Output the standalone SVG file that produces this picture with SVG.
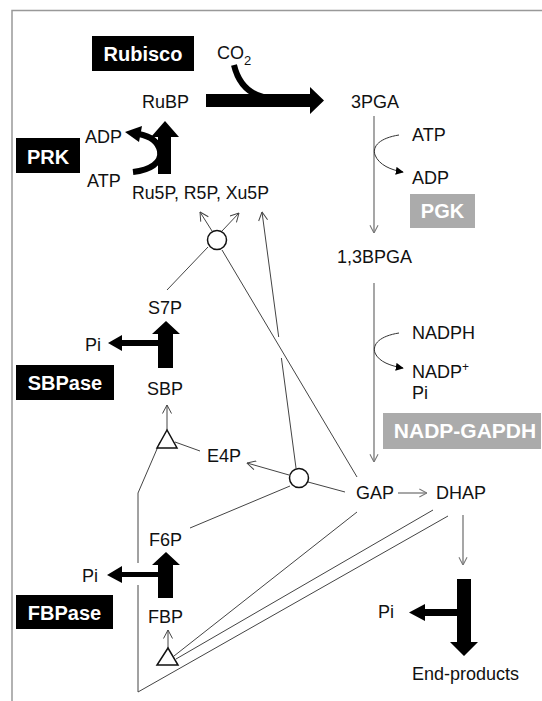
<svg xmlns="http://www.w3.org/2000/svg" width="542" height="701" viewBox="0 0 542 701">
<style>
text{font-family:"Liberation Sans",Arial,sans-serif;font-size:18px;fill:#111}
.box{font-weight:bold;font-size:20px;fill:#fff;text-anchor:middle}
.blk{fill:#000}
.gry{fill:#ababab}
.ln{fill:none;stroke:#444;stroke-width:1}
.gl{fill:none;stroke:#777;stroke-width:1.3}
.thick{fill:none;stroke:#000;stroke-width:6}
.node{fill:#fff;stroke:#111;stroke-width:1.5}
</style>
<defs>
<marker id="chev" viewBox="0 0 10 10" refX="9.5" refY="5" markerWidth="10" markerHeight="10" orient="auto" markerUnits="userSpaceOnUse">
<path d="M1,0.5 L9.5,5 L1,9.5" fill="none" stroke="#444" stroke-width="1"/>
</marker>
<marker id="chevg" viewBox="0 0 10 10" refX="9.5" refY="5" markerWidth="9" markerHeight="10" orient="auto" markerUnits="userSpaceOnUse">
<path d="M1,0.5 L9.5,5 L1,9.5" fill="none" stroke="#777" stroke-width="1.2"/>
</marker>
<marker id="tri" viewBox="0 0 10 10" refX="9" refY="5" markerWidth="8" markerHeight="8" orient="auto" markerUnits="userSpaceOnUse">
<path d="M0,0 L10,5 L0,10 Z" fill="#000"/>
</marker>
</defs>
<path d="M12,701 V10.5 H542" fill="none" stroke="#999" stroke-width="1.5"/>

<g id="connectors">
<path class="gl" d="M374,116 V233" marker-end="url(#chevg)"/>
<path d="M399,135 C380,138 372,146 375,155 C379,165 391,170 403,172" fill="none" stroke="#333" stroke-width="1" marker-end="url(#tri)"/>
<path class="gl" d="M374,283 V462" marker-end="url(#chevg)"/>
<path d="M399,333 C380,336 372,344 375,353 C379,362 391,366 403,368" fill="none" stroke="#333" stroke-width="1" marker-end="url(#tri)"/>
<path class="gl" d="M398,493 H427" marker-end="url(#chevg)"/>
<path class="gl" d="M463,515 V565" marker-end="url(#chevg)"/>
<path class="ln" d="M212,231 L200,212" marker-end="url(#chev)"/>
<path class="ln" d="M222,231 L239,213" marker-end="url(#chev)"/>
<path class="ln" d="M208,247 L167,290"/>
<path class="ln" d="M222,250 L357,477"/>
<path class="ln" d="M296,468 L281.4,358"/>
<path class="ln" d="M278.7,337 L262,212" marker-end="url(#chev)"/>
<path class="ln" d="M289,475 L247,463" marker-end="url(#chev)"/>
<path class="ln" d="M308,482 L345,492"/>
<path class="ln" d="M290,486 L190,528"/>
<path class="ln" d="M167,430 V405" marker-end="url(#chev)"/>
<path class="ln" d="M175,442 L200,451"/>
<path class="ln" d="M160,442 L138,493 V563"/>
<path class="ln" d="M138,585 V692 L448,516"/>
<path class="ln" d="M168,648 V630" marker-end="url(#chev)"/>
<path class="ln" d="M174,656 L357,512"/>
<path class="ln" d="M176,659 L433,510"/>
</g>

<g id="rubisco-arrow">
<path class="thick" d="M234,65 C238,82 248,93 263,97"/>
<polygon class="blk" points="206,94 310,94 310,87 324,100.5 310,114 310,107 206,107"/>
</g>
<g id="prk-arrow">
<polygon class="blk" points="158,174 171,174 171,137 179,137 165,121 151,137 158,137"/>
<path class="thick" d="M133,172 C150,170 162,163 160,151 C158,141 149,136 139,134"/>
<polygon class="blk" points="125,132 142,126 139,142"/>
</g>
<g id="sbpase-arrow">
<polygon class="blk" points="158,368 173,368 173,334 180,334 166,321 152,334 158,334 158,346 122,346 122,351 108,343 122,335 122,340 158,340"/>
</g>
<g id="fbpase-arrow">
<polygon class="blk" points="158,598 173,598 173,565 180,565 166,552 152,565 158,565 158,577 122,577 122,583 107,575 122,566 122,572 158,572"/>
</g>
<g id="end-arrow">
<polygon class="blk" points="457,579 471,579 471,642 478,642 464,656 450,642 457,642 457,616 425,616 425,621 409,612.5 425,604 425,609 457,609"/>
</g>

<g id="circle-upper"><circle class="node" cx="217" cy="240" r="9.5"/></g>
<g id="circle-lower"><circle class="node" cx="299" cy="478" r="9.5"/></g>
<g id="tri-sbp"><polygon class="node" points="167,430 157,448 177,448"/></g>
<g id="tri-fbp"><polygon class="node" points="168,648 157,665 178,665"/></g>

<g id="Rubisco"><rect class="blk" x="92" y="36" width="102" height="35"/><text class="box" x="143" y="61">Rubisco</text></g>
<g id="PRK"><rect class="blk" x="16" y="138" width="64" height="35"/><text class="box" x="48" y="164">PRK</text></g>
<g id="SBPase"><rect class="blk" x="16" y="365" width="98" height="35"/><text class="box" x="65" y="390">SBPase</text></g>
<g id="FBPase"><rect class="blk" x="16" y="595" width="97" height="34"/><text class="box" x="64.5" y="620">FBPase</text></g>
<g id="PGK"><rect class="gry" x="410" y="194" width="65" height="34"/><text class="box" x="442.5" y="218">PGK</text></g>
<g id="NADP-GAPDH"><rect class="gry" x="383" y="413" width="158" height="36"/><text class="box" x="465" y="438" style="font-size:21px">NADP-GAPDH</text></g>

<g id="CO2"><text x="217" y="59">CO<tspan dy="6" font-size="13">2</tspan></text></g>
<g id="RuBP"><text x="142" y="108">RuBP</text></g>
<g id="3PGA"><text x="351" y="108">3PGA</text></g>
<g id="ADP1"><text x="85" y="143">ADP</text></g>
<g id="ATP1"><text x="87" y="187">ATP</text></g>
<g id="Ru5P"><text x="132" y="199" textLength="137" lengthAdjust="spacingAndGlyphs">Ru5P, R5P, Xu5P</text></g>
<g id="ATP2"><text x="412" y="141">ATP</text></g>
<g id="ADP2"><text x="412" y="184">ADP</text></g>
<g id="BPGA"><text x="337" y="263">1,3BPGA</text></g>
<g id="NADPH"><text x="412" y="339">NADPH</text></g>
<g id="NADP"><text x="412" y="378">NADP<tspan dy="-7" font-size="12">+</tspan></text></g>
<g id="Pi-gapdh"><text x="412" y="399">Pi</text></g>
<g id="S7P"><text x="148" y="314">S7P</text></g>
<g id="Pi-sbp"><text x="85" y="351">Pi</text></g>
<g id="SBP"><text x="147" y="395">SBP</text></g>
<g id="E4P"><text x="207" y="462">E4P</text></g>
<g id="GAP"><text x="356" y="499">GAP</text></g>
<g id="DHAP"><text x="436" y="499">DHAP</text></g>
<g id="F6P"><text x="149" y="546">F6P</text></g>
<g id="Pi-fbp"><text x="82" y="582">Pi</text></g>
<g id="FBP"><text x="148" y="623">FBP</text></g>
<g id="Pi-end"><text x="378" y="618">Pi</text></g>
<g id="End-products"><text x="412" y="680">End-products</text></g>
</svg>
